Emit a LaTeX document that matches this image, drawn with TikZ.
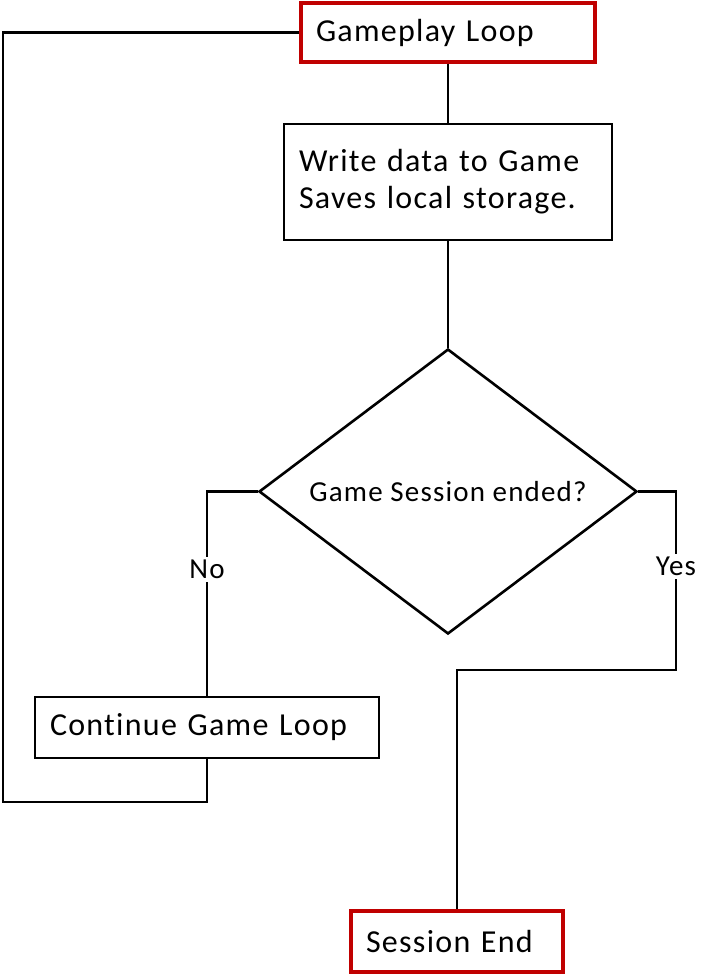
\documentclass[tikz,border=0pt]{standalone}
\usepackage{fontspec}
\setmainfont{Carlito}[LetterSpace=4,Ligatures=NoCommon]
\usetikzlibrary{shapes.geometric,positioning}
\definecolor{termred}{RGB}{192,0,0}

\begin{document}
\begin{tikzpicture}[x=1pt,y=-1pt,line width=2.6pt,
    every node/.style={inner sep=2pt},
    box/.style={draw,rectangle,align=left,inner xsep=15pt,
      font=\fontsize{32}{37}\selectfont},
    term/.style={box,draw=termred,line width=3.2pt},
    decide/.style={draw,diamond,inner sep=0pt,aspect=1.32,
      font=\fontsize{29}{33}\selectfont},
    lbl/.style={fill=white,inner sep=3pt,font=\fontsize{29}{33}\selectfont}]
    \useasboundingbox(0,0)rectangle(714,977);
    \node[term,minimum height=59pt,text width=264pt](loop)at(448,32.5){Gameplay Loop};
    \node[box,minimum height=116pt,text width=298pt](save)at(448,182){Write data to Game\\Saves local storage.};
    \node[decide,minimum width=378pt,minimum height=285pt](ended)at(448,491.5){Game Session ended?};
    \node[box,minimum height=61pt,text width=314pt](cont)at(207,727.5){Continue Game Loop};
    \node[term,minimum height=61pt,text width=182pt](send)at(457,941.5){Session End};
    \coordinate(back)at(3,802);
    \coordinate(yesturn)at(676,670);
    \draw(loop.south)--(save.north);
    \draw(save.south)--(ended.north);
    \draw(ended.west)-|node[lbl,pos=0.69]{No}(cont.north);
    \draw(ended.east)-|node[lbl,pos=0.71]{Yes}(yesturn)-|(send.north);
    \draw(loop.west)-|(back)-|(cont.south);
  \end{tikzpicture}
\end{document}
